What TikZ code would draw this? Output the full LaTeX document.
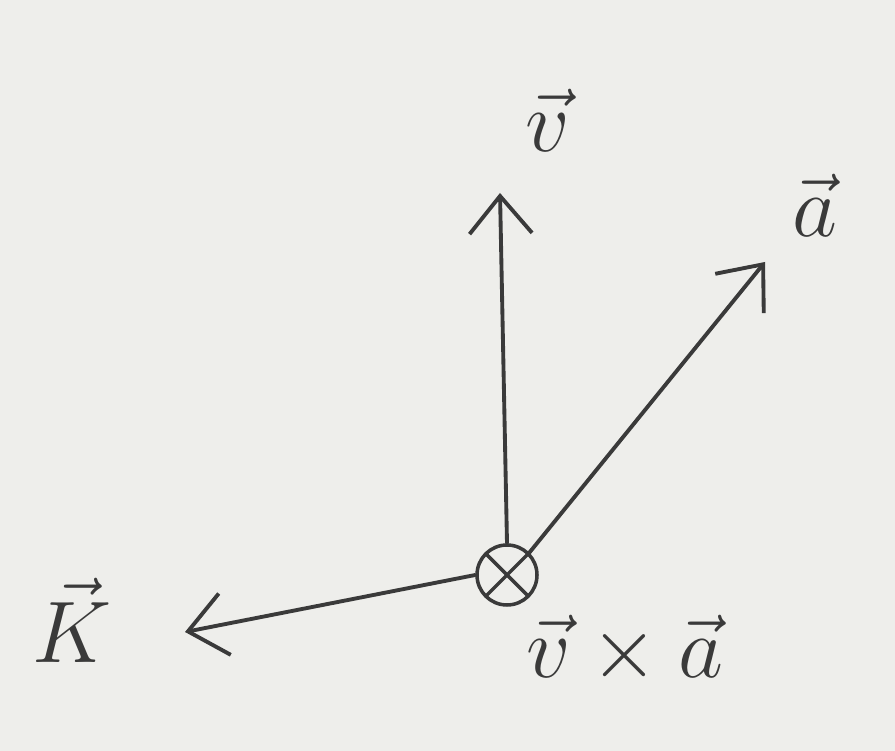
\documentclass[tikz,border=0pt]{standalone}
\usepackage{amsmath,amssymb}
\usepackage{xcolor}
\usepackage{tikz}
\usetikzlibrary{arrows.meta,positioning}
\definecolor{ink}{HTML}{3A3A3A}
\definecolor{paperbg}{HTML}{EEEEEB}
\tikzset{
  vecarrow/.style={-{Straight Barb[length=0.75cm,width=1.25cm,line width=2.2pt]}, line width=2.2pt, draw=ink, line cap=round},
  veclabel/.style={font=\Huge, scale=2.0, text=ink, inner sep=0pt},
  intopage/.style={circle, draw=ink, line width=2pt, minimum size=1.2cm, inner sep=0pt,
    path picture={\draw[ink, line width=2pt] (path picture bounding box.north west) -- (path picture bounding box.south east)
      (path picture bounding box.north east) -- (path picture bounding box.south west);}}
}
\begin{document}
\begin{tikzpicture}
  \fill[paperbg] (0,0) rectangle (17.9,15.02);
  \useasboundingbox (0,0) rectangle (17.9,15.02);

  \node[intopage] (o) at (10.14,3.52) {};
  \coordinate (vtip) at (10.0,11.16);
  \coordinate (atip) at (15.3,9.78);
  \coordinate (ktip) at (3.7,2.38);

  \draw[vecarrow] (o.north) -- (vtip);
  \draw[vecarrow] (o.north east) -- (atip);
  \draw[vecarrow] (o.west) -- (ktip);

  \node[veclabel] (vlab) at (10.96,12.62) {$\vec{v}$};
  \node[veclabel] (alab) at (16.3,10.92) {$\vec{a}$};
  \node[veclabel] (klab) at (1.44,2.62) {$\vec{K}$};
  \node[veclabel] (vxa) at (12.5,2.02) {$\vec{v}\times\vec{a}$};
\end{tikzpicture}
\end{document}
